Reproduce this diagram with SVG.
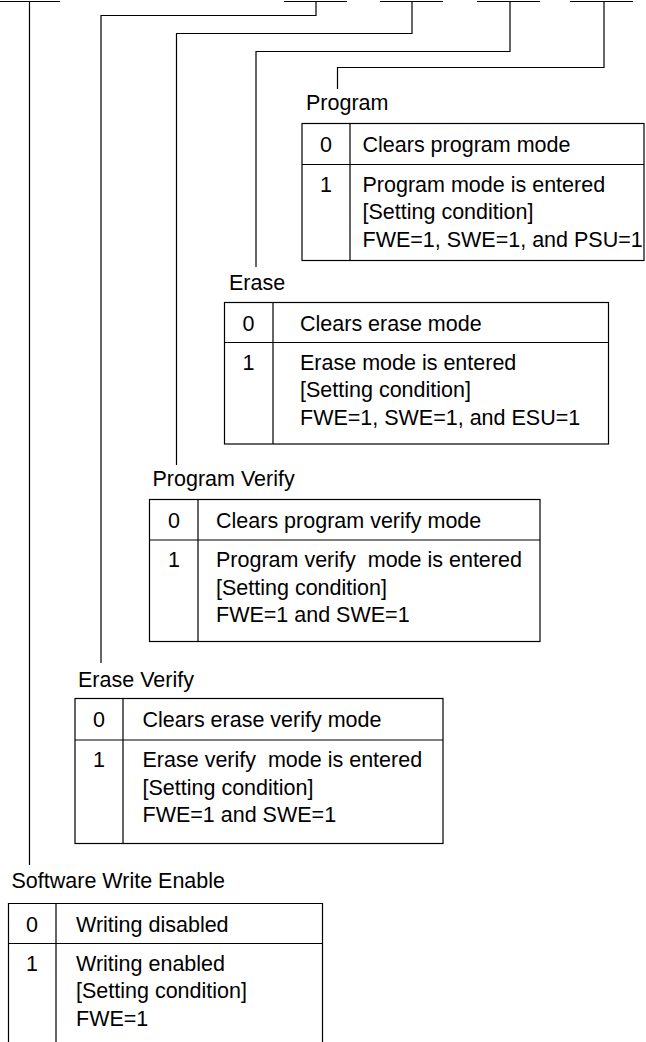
<svg xmlns="http://www.w3.org/2000/svg" width="646" height="1042" viewBox="0 0 646 1042">
<style>
.t{font-family:"Liberation Sans",Arial,sans-serif;font-size:21.5px;fill:#000}
.c{text-anchor:middle}
.b{fill:none;stroke:#000;stroke-width:1.2}
.w{fill:none;stroke:#000;stroke-width:1.2}
</style>
<rect width="646" height="1042" fill="#fff"/>
<g id="connectors" class="w">
<path d="M0 1.5H60M29.5 1.5V865"/>
<path d="M284 1.5H347M316 1.5V15.5H101V663"/>
<path d="M380 1.5H443M412 1.5V33.5H176.5V465"/>
<path d="M477 1.5H540M510 1.5V51.5H256V267"/>
<path d="M570 1.5H633M604 1.5V67.5H337.5V89"/>
</g>
<g id="program">
<text class="t" x="306" y="110">Program</text>
<rect class="b" x="302" y="123.5" width="342" height="137"/>
<path class="b" d="M350 123.5V260.5M302 164.5H644"/>
<text class="t c" x="326" y="152">0</text>
<text class="t" x="362.5" y="152">Clears program mode</text>
<text class="t c" x="326" y="191.5">1</text>
<text class="t" x="362.5" y="191.5">Program mode is entered</text>
<text class="t" x="362.5" y="219">[Setting condition]</text>
<text class="t" x="362.5" y="246.5">FWE=1, SWE=1, and PSU=1</text>
</g>
<g id="erase">
<text class="t" x="229" y="290">Erase</text>
<rect class="b" x="224.5" y="302.5" width="384" height="141.5"/>
<path class="b" d="M273 302.5V444M224.5 342.5H608.5"/>
<text class="t c" x="248.5" y="331">0</text>
<text class="t" x="300" y="331">Clears erase mode</text>
<text class="t c" x="248.5" y="369.5">1</text>
<text class="t" x="300" y="369.5">Erase mode is entered</text>
<text class="t" x="300" y="397">[Setting condition]</text>
<text class="t" x="300" y="424.5">FWE=1, SWE=1, and ESU=1</text>
</g>
<g id="program-verify">
<text class="t" x="152.5" y="486">Program Verify</text>
<rect class="b" x="149.5" y="499.5" width="390.5" height="142"/>
<path class="b" d="M198 499.5V641.5M149.5 540H540"/>
<text class="t c" x="174" y="528">0</text>
<text class="t" x="216" y="528">Clears program verify mode</text>
<text class="t c" x="174" y="567">1</text>
<text class="t" x="216" y="567" xml:space="preserve">Program verify  mode is entered</text>
<text class="t" x="216" y="594.5">[Setting condition]</text>
<text class="t" x="216" y="622">FWE=1 and SWE=1</text>
</g>
<g id="erase-verify">
<text class="t" x="78" y="687">Erase Verify</text>
<rect class="b" x="75" y="698.5" width="368" height="145"/>
<path class="b" d="M123 698.5V843.5M75 740H443"/>
<text class="t c" x="99" y="727">0</text>
<text class="t" x="142.5" y="727">Clears erase verify mode</text>
<text class="t c" x="99" y="767">1</text>
<text class="t" x="142.5" y="767" xml:space="preserve">Erase verify  mode is entered</text>
<text class="t" x="142.5" y="794.5">[Setting condition]</text>
<text class="t" x="142.5" y="822">FWE=1 and SWE=1</text>
</g>
<g id="software-write-enable">
<text class="t" x="11.5" y="888">Software Write Enable</text>
<path class="b" d="M8.5 1042V903.5H322.5V1042M56 903.5V1042M8.5 943.5H322.5"/>
<text class="t c" x="32" y="932">0</text>
<text class="t" x="76" y="932">Writing disabled</text>
<text class="t c" x="32" y="970.5">1</text>
<text class="t" x="76" y="970.5">Writing enabled</text>
<text class="t" x="76" y="998">[Setting condition]</text>
<text class="t" x="76" y="1025.5">FWE=1</text>
</g>
</svg>
